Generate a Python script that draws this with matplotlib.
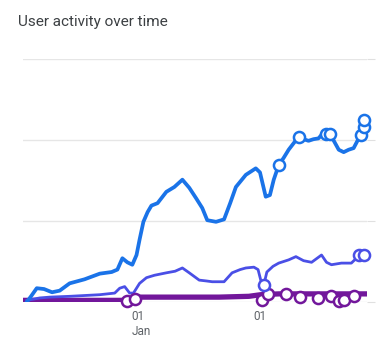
import datetime as dt
import matplotlib
matplotlib.use("Agg")
import matplotlib.pyplot as plt

start = dt.date(2022, 12, 1)

# days since start, values (one gridline = 1 unit)
blue_days = [1.0, 2.1, 3.6, 5.5, 7.6, 9.6, 12.2, 16.1, 20.1, 23.2, 24.7, 26.0, 27.3, 28.6, 29.7,
             30.5, 31.5, 32.6, 33.6, 35.2, 37.5, 39.6, 41.7, 43.5, 45.3, 46.9, 48.2, 50.5, 52.6,
             54.2, 55.7, 58.3, 60.9, 62.0, 62.8, 63.5, 64.6, 65.6, 66.9, 68.2, 69.5, 70.8, 72.1,
             73.4, 74.7, 76.0, 77.3, 78.6, 80.0, 81.2, 82.6, 83.9, 85.2, 86.5, 87.5, 88.3, 89.3]
blue_vals = [0.0, 0.07, 0.17, 0.16, 0.12, 0.14, 0.23, 0.28, 0.35, 0.37, 0.40, 0.54, 0.49, 0.46, 0.58,
             0.77, 0.99, 1.11, 1.19, 1.22, 1.36, 1.42, 1.51, 1.41, 1.28, 1.16, 1.01, 0.99, 1.02,
             1.22, 1.42, 1.57, 1.65, 1.60, 1.44, 1.30, 1.32, 1.51, 1.69, 1.78, 1.88, 1.96, 2.04,
             2.01, 1.99, 2.01, 2.02, 2.09, 2.09, 2.00, 1.88, 1.85, 1.88, 1.90, 1.99, 2.06, 2.25]
blue_mark_days = [66.9, 72.1, 79.4, 80.2, 88.3, 89.3, 89.3]
blue_mark_vals = [1.69, 2.04, 2.08, 2.08, 2.06, 2.16, 2.25]

indigo_days = [1.0, 4.4, 7.0, 12.2, 20.1, 24.0, 25.3, 26.6, 27.9, 28.9, 30.5, 32.3, 34.4, 37.5,
               39.8, 41.7, 43.5, 46.1, 47.9, 49.5, 51.3, 52.6, 54.7, 56.8, 58.3, 60.4, 61.5, 62.2,
               63.0, 63.8, 65.4, 66.9, 69.5, 71.4, 73.4, 75.5, 78.1, 79.4, 80.7, 83.3, 85.9, 87.2,
               88.3, 89.3]
indigo_vals = [0.02, 0.05, 0.06, 0.07, 0.09, 0.11, 0.17, 0.19, 0.11, 0.11, 0.23, 0.30, 0.33, 0.36,
               0.38, 0.42, 0.36, 0.27, 0.26, 0.25, 0.25, 0.25, 0.36, 0.40, 0.42, 0.43, 0.40, 0.27,
               0.21, 0.37, 0.44, 0.48, 0.52, 0.56, 0.51, 0.49, 0.58, 0.49, 0.46, 0.48, 0.48, 0.54,
               0.58, 0.58]
indigo_mark_days = [63.0, 88.0, 89.1]
indigo_mark_vals = [0.21, 0.58, 0.58]

purple_days = [0, 9.6, 20.1, 27.3, 30.5, 40.9, 51.3, 59.1, 62.2, 66.9, 77.3, 89.6]
purple_vals = [0.02, 0.02, 0.02, 0.02, 0.06, 0.06, 0.06, 0.07, 0.09, 0.10, 0.10, 0.10]
purple_mark_days = [27.3, 29.2, 62.5, 64.1, 68.8, 72.4, 77.3, 80.7, 82.6, 84.1, 86.5]
purple_mark_vals = [0.01, 0.04, 0.02, 0.10, 0.10, 0.06, 0.05, 0.07, 0.01, 0.02, 0.07]

tick_dates = [dt.datetime(2023, 1, 1), dt.datetime(2023, 2, 1)]
tick_labels = ["01\nJan", "01"]


def to_dates(days):
    return [dt.datetime.combine(start, dt.time()) + dt.timedelta(days=d) for d in days]


fig = plt.figure(figsize=(3.77, 3.37), dpi=100)
ax = fig.add_axes([0.061, 0.1039, 0.9125, 0.721])

series = [
    (purple_days, purple_vals, purple_mark_days, purple_mark_vals, "#72179b", 3.8),
    (indigo_days, indigo_vals, indigo_mark_days, indigo_mark_vals, "#4a4fe6", 2.0),
    (blue_days, blue_vals, blue_mark_days, blue_mark_vals, "#1a73e8", 2.7),
]
for days, vals, mdays, mvals, color, lw in series:
    ax.plot(to_dates(days), vals, color=color, linewidth=lw, solid_joinstyle="round", zorder=3)
    ax.plot(to_dates(mdays), mvals, linestyle="none", marker="o", markersize=8,
            markerfacecolor="white", markeredgecolor=color, markeredgewidth=1.8, zorder=4,
            clip_on=False)

ax.set_xlim(dt.datetime(2022, 12, 1), dt.datetime(2023, 3, 1))
ax.set_ylim(0, 3)
ax.set_yticks([0, 1, 2, 3])
ax.yaxis.tick_right()
ax.tick_params(axis="y", length=6, color="#e0e0e0", labelright=False)
ax.grid(axis="y", color="#e6e6e6", linewidth=1)
ax.set_axisbelow(True)

ax.set_xticks(tick_dates)
ax.set_xticklabels(tick_labels)
ax.tick_params(axis="x", length=0, pad=6, labelsize=8.5, labelcolor="#5f6368")
for lbl in ax.get_xticklabels():
    lbl.set_horizontalalignment("center")
    lbl.set_multialignment("left")
    lbl.set_fontfamily("Roboto")

for s in ax.spines.values():
    s.set_visible(False)

fig.text(0.048, 0.935, "User activity over time", fontsize=11, color="#3c4043",
         family="Roboto", va="center")

fig.savefig("out.png", dpi=100)
